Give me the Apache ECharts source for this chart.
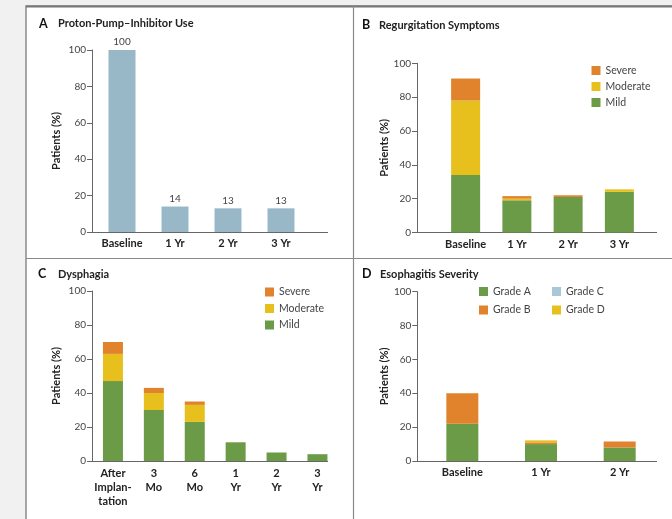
<!DOCTYPE html>
<html>
<head>
<meta charset="utf-8">
<script src="https://cdn.jsdelivr.net/npm/echarts@6/dist/echarts.min.js"></script>
<style>
html,body{margin:0;padding:0;background:#f1f1f1;}
#c{width:672px;height:519px;}
</style>
</head>
<body>
<div id="c"></div>
<script>
// Panel A: Proton-Pump–Inhibitor Use
const ppiCats = ['Baseline', '1 Yr', '2 Yr', '3 Yr'];
const ppiVals = [100, 14, 13, 13];
// Panel B: Regurgitation Symptoms
const regCats = ['Baseline', '1 Yr', '2 Yr', '3 Yr'];
const regMild = [34, 19, 21, 24];
const regModerate = [44, 1, 0, 1.5];
const regSevere = [13, 1.5, 1, 0];
// Panel C: Dysphagia
const dysCats = ['After\nImplan-\ntation', '3\nMo', '6\nMo', '1\nYr', '2\nYr', '3\nYr'];
const dysMild = [47, 30, 23, 11, 5, 4];
const dysModerate = [16, 10, 10, 0, 0, 0];
const dysSevere = [7, 3, 2, 0, 0, 0];
// Panel D: Esophagitis Severity
const escCats = ['Baseline', '1 Yr', '2 Yr'];
const gradeA = [22, 10, 8];
const gradeB = [18, 1, 3.5];
const gradeC = [0, 0, 0];
const gradeD = [0, 1.2, 0];
// Axis ticks
const yTicks = [0, 20, 40, 60, 80, 100];

const FONT = 'Lato, "Open Sans", sans-serif';
const C_BLUE = '#98b8c8', C_GREEN = '#6b9b47', C_YELLOW = '#e8c01e', C_ORANGE = '#e0832c', C_LBLUE = '#a9c7d6';

const chart = echarts.init(document.getElementById('c'), null, {renderer: 'canvas'});

function yAx(gi, offset, gap) {
  return {
    type: 'value', gridIndex: gi, min: yTicks[0], max: yTicks[yTicks.length - 1], interval: 20,
    offset: offset,
    name: 'Patients (%)', nameLocation: 'middle', nameGap: gap, nameRotate: 90,
    nameTextStyle: {fontFamily: FONT, fontWeight: 'bold', fontSize: 11, color: '#222'},
    axisLine: {show: true, lineStyle: {color: '#666', width: 1}},
    axisTick: {show: true, length: 5, lineStyle: {color: '#666'}},
    axisLabel: {fontFamily: FONT, fontSize: 10, color: '#444', margin: 6},
    splitLine: {show: false}
  };
}
function xAx(gi, cats, lh) {
  return {
    type: 'category', gridIndex: gi, data: cats,
    axisLine: {show: false}, axisTick: {show: false},
    axisLabel: {fontFamily: FONT, fontWeight: 'bold', fontSize: 11, color: '#222', margin: 5, lineHeight: lh || 13, interval: 0}
  };
}
function bar(name, xi, data, color, w, stack) {
  return {name: name, type: 'bar', xAxisIndex: xi, yAxisIndex: xi, data: data, stack: stack,
    barWidth: w, itemStyle: {color: color}, emphasis: {disabled: true}, animation: false};
}
const legendText = {fontFamily: FONT, fontSize: 10.5, color: '#444', lineHeight: 10};
function leg(names, left, top, gap) {
  return {data: names, orient: 'vertical', left: left, top: top, padding: 0, itemWidth: 9, itemHeight: 9,
    itemGap: gap, icon: 'rect', textStyle: legendText, selectedMode: false};
}

const option = {
  animation: false,
  grid: [
    {left: 95.5, top: 50, width: 212, height: 182},
    {left: 440, top: 63.3, width: 205, height: 169.2},
    {left: 92.5, top: 291, width: 245.4, height: 170},
    {left: 423, top: 291.7, width: 236, height: 169.3}
  ],
  xAxis: [xAx(0, ppiCats), xAx(1, regCats), xAx(2, dysCats, 14), xAx(3, escCats)],
  yAxis: [yAx(0, 3.5, 30), yAx(1, 23, 25), yAx(2, 0.5, 30), yAx(3, 5.7, 26.5)],
  legend: [
    leg(['Severe', 'Moderate', 'Mild'], 591.5, 65, 5),
    leg(['Severe', 'Moderate', 'Mild'], 265, 286.5, 5.5),
    leg(['Grade A', 'Grade B'], 479, 286, 7.5),
    leg(['Grade C', 'Grade D'], 552, 286, 7.5)
  ],
  series: [
    Object.assign(bar('PPI', 0, ppiVals, C_BLUE, 27), {label: {show: true, position: 'top', distance: 3, fontFamily: FONT, fontSize: 10, color: '#444'}}),
    bar('Mild', 1, regMild, C_GREEN, 29, 'b'),
    bar('Moderate', 1, regModerate, C_YELLOW, 29, 'b'),
    bar('Severe', 1, regSevere, C_ORANGE, 29, 'b'),
    bar('Mild', 2, dysMild, C_GREEN, 20, 'c'),
    bar('Moderate', 2, dysModerate, C_YELLOW, 20, 'c'),
    bar('Severe', 2, dysSevere, C_ORANGE, 20, 'c'),
    bar('Grade A', 3, gradeA, C_GREEN, 32, 'd'),
    bar('Grade B', 3, gradeB, C_ORANGE, 32, 'd'),
    bar('Grade C', 3, gradeC, C_LBLUE, 32, 'd'),
    bar('Grade D', 3, gradeD, C_YELLOW, 32, 'd')
  ],
  graphic: [
    {type: 'rect', z: -10, silent: true, shape: {x: 26, y: 6, width: 700, height: 600}, style: {fill: '#fff', stroke: '#8a8a8a', lineWidth: 1.5}},
    {type: 'line', z: -9, silent: true, shape: {x1: 26, y1: 6.5, x2: 672, y2: 6.5}, style: {stroke: '#777', lineWidth: 2}},
    {type: 'line', z: -9, silent: true, shape: {x1: 353.5, y1: 6, x2: 353.5, y2: 519}, style: {stroke: '#8a8a8a', lineWidth: 1.2}},
    {type: 'line', z: -9, silent: true, shape: {x1: 26, y1: 258.5, x2: 672, y2: 258.5}, style: {stroke: '#8a8a8a', lineWidth: 1.2}},
    // x-axis baselines
    {type: 'line', silent: true, shape: {x1: 92, y1: 232.5, x2: 328, y2: 232.5}, style: {stroke: '#666', lineWidth: 1}},
    {type: 'line', silent: true, shape: {x1: 417, y1: 232.5, x2: 657, y2: 232.5}, style: {stroke: '#666', lineWidth: 1}},
    {type: 'line', silent: true, shape: {x1: 92, y1: 461.5, x2: 328, y2: 461.5}, style: {stroke: '#666', lineWidth: 1}},
    {type: 'line', silent: true, shape: {x1: 417, y1: 461.5, x2: 657, y2: 461.5}, style: {stroke: '#666', lineWidth: 1}},
    // titles
    {type: 'text', silent: true, style: {x: 39, y: 23.5, text: 'A', font: 'bold 12.5px ' + FONT, fill: '#111', textVerticalAlign: 'middle'}},
    {type: 'text', silent: true, style: {x: 58, y: 23.5, text: 'Proton-Pump–Inhibitor Use', font: 'bold 11px ' + FONT, fill: '#222', textVerticalAlign: 'middle'}},
    {type: 'text', silent: true, style: {x: 362, y: 25, text: 'B', font: 'bold 12.5px ' + FONT, fill: '#111', textVerticalAlign: 'middle'}},
    {type: 'text', silent: true, style: {x: 379, y: 25, text: 'Regurgitation Symptoms', font: 'bold 11px ' + FONT, fill: '#222', textVerticalAlign: 'middle'}},
    {type: 'text', silent: true, style: {x: 38, y: 274, text: 'C', font: 'bold 12.5px ' + FONT, fill: '#111', textVerticalAlign: 'middle'}},
    {type: 'text', silent: true, style: {x: 58, y: 274, text: 'Dysphagia', font: 'bold 11px ' + FONT, fill: '#222', textVerticalAlign: 'middle'}},
    {type: 'text', silent: true, style: {x: 362, y: 274, text: 'D', font: 'bold 12.5px ' + FONT, fill: '#111', textVerticalAlign: 'middle'}},
    {type: 'text', silent: true, style: {x: 380, y: 274, text: 'Esophagitis Severity', font: 'bold 11px ' + FONT, fill: '#222', textVerticalAlign: 'middle'}}
  ]
};
chart.setOption(option);
</script>
</body>
</html>
